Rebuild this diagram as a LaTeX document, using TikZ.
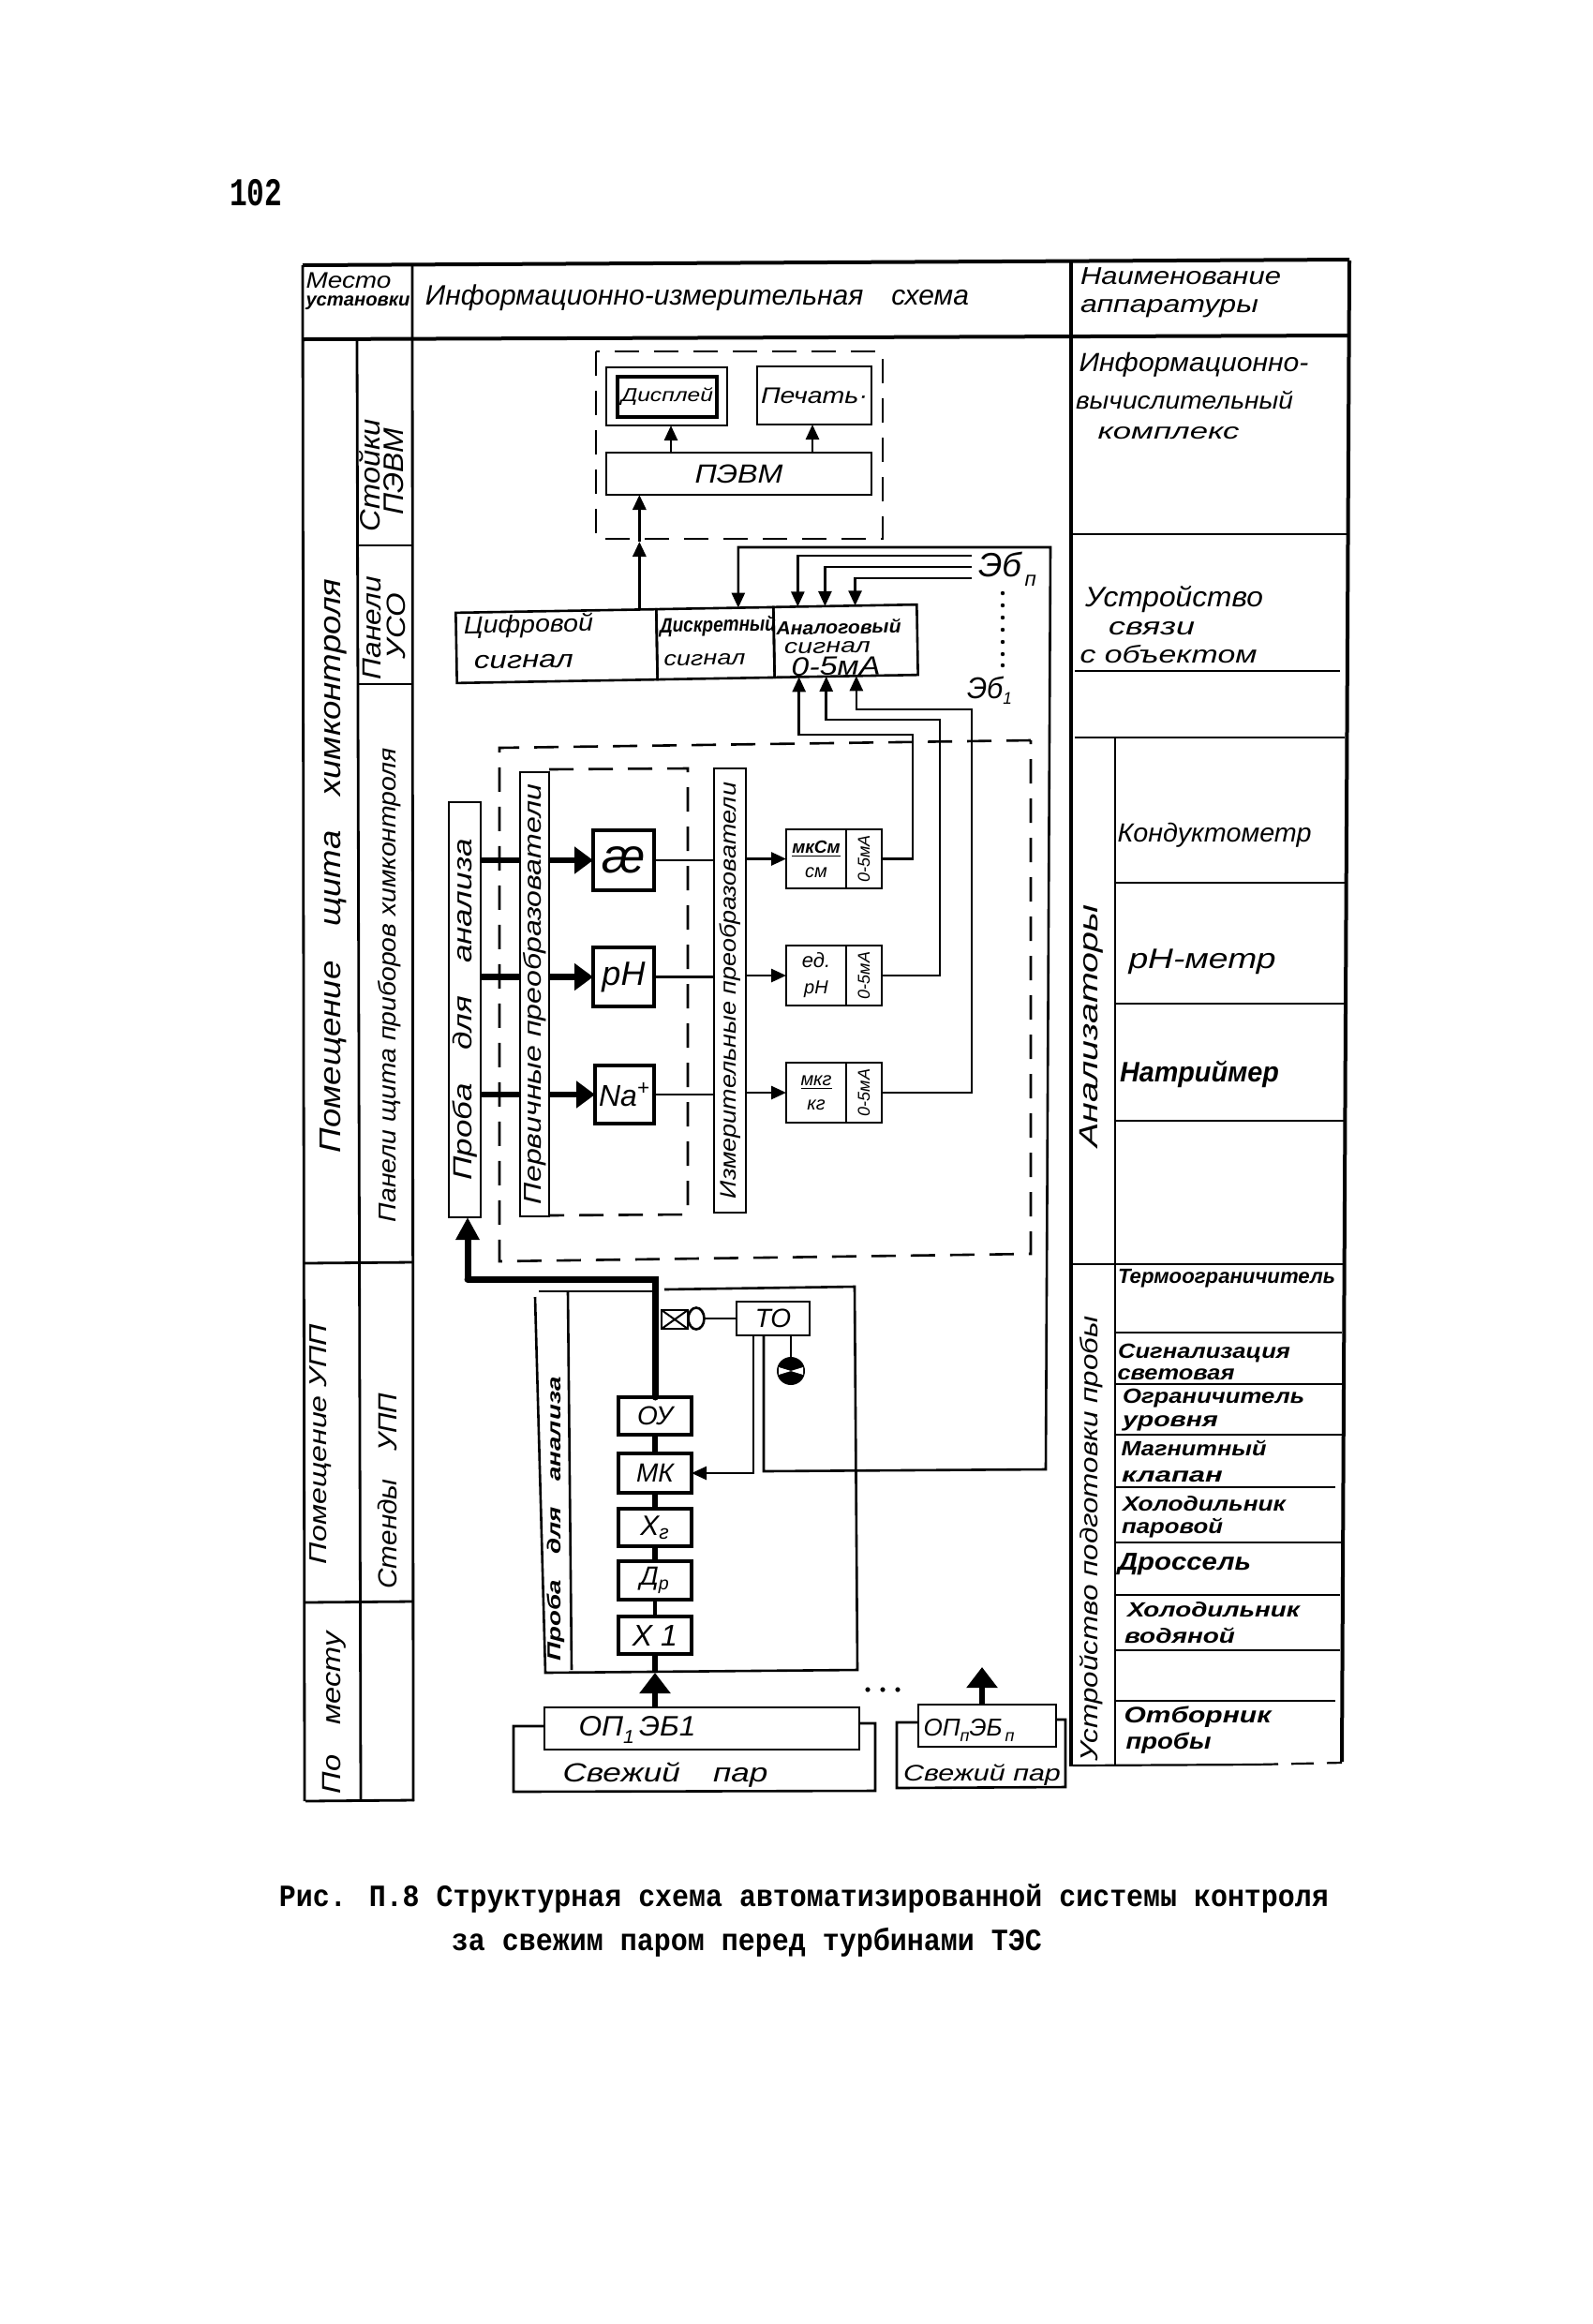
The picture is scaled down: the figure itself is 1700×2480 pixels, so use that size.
\documentclass[tikz,border=0pt]{standalone}
\usepackage{fontspec}
\usepackage{graphicx}
\setmainfont{Liberation Sans}
\newfontfamily\hwf{Liberation Sans}
\newfontfamily\capf{Liberation Mono}
\usetikzlibrary{arrows.meta,calc,shapes.geometric}
\tikzset{
  tbl/.style={line width=1.4pt,black},
  tblb/.style={line width=2pt,black},
  tbn/.style={line width=1.1pt,black},
  box/.style={draw,line width=1.3pt,inner sep=0pt,outer sep=0pt,align=center,font=\hwf\itshape},
  dbox/.style={draw,line width=1.3pt,dash pattern=on 13pt off 8pt},
  wire/.style={line width=1.3pt},
  wirea/.style={line width=1.3pt,-{Triangle[length=8pt,width=7pt]}},
  pipe/.style={line width=3.2pt},
  pipea/.style={line width=3.2pt,-{Triangle[length=10pt,width=14pt]}},
  bigarr/.style={line width=3.2pt,-{Triangle[length=11pt,width=16pt]}},
}
% text centred at a point: [rotation]{name}{x}{y}{font pt}{width px}{text}
\newcommand{\tx}[7][0]{\node[rotate=#1,inner sep=0pt,align=center] (#2) at (#3,#4)
  {\hwf\itshape\fontsize{#5}{#5}\selectfont\resizebox{\dimexpr #6pt/2\relax}{\height}{#7}};}
% box by corners
\newcommand{\bx}[7]{\pgfmathsetmacro\bxw{abs(#4-#2)*0.5}\pgfmathsetmacro\bxh{abs(#5-#3)*0.5}%
  \node[box,#6,minimum width=\bxw pt,minimum height=\bxh pt] (#1) at ({(#2+#4)/2},{(#3+#5)/2}) {#7};}
\begin{document}
\begin{tikzpicture}[x=0.5pt,y=-0.5pt]
\useasboundingbox[fill=white] (0,0) rectangle (1700,2480);

%% ---- table ----
\draw[tblb] (323,283) -- (1440,277);
\draw[tblb] (323,362) -- (1440,358);
\draw[tbl] (323,283) -- (325,1922);
\draw[tbl] (440,282) -- (441,1922);
\draw[tbl] (381,362) -- (385,1922);
\draw[tblb] (1143,279) -- (1143,1885);
\draw[tblb] (1440,278) -- (1432,1880);
\draw[tbl] (1190,787) -- (1190,1885);
\draw[tbl] (326,1922) -- (442,1921);
\draw[tbl] (383,582) -- (440,582);
\draw[tbl] (383,730) -- (440,730);
\draw[tbl] (325,1348) -- (441,1347);
\draw[tbl] (325,1710) -- (441,1709);
% right column rows
\draw[tbn] (1143,570) -- (1438,570);
\draw[tbn] (1147,716) -- (1430,716);
\draw[tbn] (1147,787) -- (1435,787);
\draw[tbn] (1190,942) -- (1436,942);
\draw[tbn] (1190,1071) -- (1436,1071);
\draw[tbn] (1190,1196) -- (1435,1196);
\draw[tbn] (1145,1349) -- (1435,1349);
\draw[tbn] (1190,1422) -- (1432,1422);
\draw[tbn] (1190,1477) -- (1432,1477);
\draw[tbn] (1190,1531) -- (1432,1531);
\draw[tbn] (1190,1587) -- (1425,1587);
\draw[tbn] (1190,1646) -- (1432,1646);
\draw[tbn] (1190,1702) -- (1430,1702);
\draw[tbn] (1190,1761) -- (1430,1761);
\draw[tbn] (1190,1815) -- (1425,1815);
\draw[tbn] (1145,1884) -- (1340,1883);
\draw[tbn,dash pattern=on 12pt off 7pt] (1340,1883) -- (1432,1881);

%% ---- table texts ----
\tx{tMesto}{372}{299}{12}{91}{Место}
\tx{tUst}{382}{323}{10}{111}{\bfseries установки}
\tx{tInf}{744}{318}{15}{580}{Информационно-измерительная\quad схема}
\tx{tNaim}{1260}{295}{13}{214}{Наименование}
\tx{tApp}{1248}{329}{13}{190}{аппаратуры}
\tx{tIvk1}{1274}{389}{14}{245}{Информационно-}
\tx{tIvk2}{1264}{427}{13}{232}{вычислительный}
\tx{tIvk3}{1247}{462}{12}{151}{комплекс}
\tx{tUs1}{1253}{640}{15}{190}{Устройство}
\tx{tUs2}{1229}{671}{13}{92}{связи}
\tx{tUs3}{1247}{698}{13}{189}{с объектом}
\tx{tKond}{1296}{891}{14}{207}{Кондуктометр}
\tx{tPh}{1283}{1026}{15}{157}{pH-метр}
\tx{tNat}{1280}{1146}{15}{170}{\bfseries Натриймер}
\tx{tTerm}{1309}{1364}{11}{232}{\bfseries Термоограничитель}
\tx{tSig1}{1285}{1444}{11}{184}{\bfseries Сигнализация}
\tx{tSig2}{1255}{1467}{11}{125}{\bfseries световая}
\tx{tOgr1}{1295}{1492}{11}{194}{\bfseries Ограничитель}
\tx{tOgr2}{1249}{1519}{11}{102}{\bfseries уровня}
\tx{tMag1}{1274}{1545}{11}{155}{\bfseries Магнитный}
\tx{tMag2}{1251}{1576}{11}{108}{\bfseries клапан}
\tx{tHol1}{1285}{1605}{11}{174}{\bfseries Холодильник}
\tx{tHol2}{1251}{1631}{11}{108}{\bfseries паровой}
\tx{tDro}{1264}{1669}{13}{142}{\bfseries Дроссель}
\tx{tHv1}{1295}{1718}{11}{184}{\bfseries Холодильник}
\tx{tHv2}{1259}{1745}{11}{118}{\bfseries водяной}
\tx{tOtb}{1278}{1832}{12}{157}{\bfseries Отборник}
\tx{tPro}{1247}{1860}{12}{91}{\bfseries пробы}
\tx[90]{tUpp}{1165}{1642}{13}{475}{Устройство подготовки пробы}
\tx[90]{tAn}{1165}{1095}{14}{259}{Анализаторы}
\tx[90]{tPom}{356}{924}{16}{613}{Помещение\quad щита\quad химконтроля}
\tx[90]{tPan}{416}{1051}{13}{506}{Панели щита приборов химконтроля}
\tx[90]{tSto}{395}{507}{15}{120}{Стойки}
\tx[90]{tPev}{420}{503}{15}{93}{ПЭВМ}
\tx[90]{tPan2}{397}{670}{14}{110}{Панели}
\tx[90]{tUso}{423}{668}{14}{70}{УСО}
\tx[90]{tPomu}{342}{1541}{13}{256}{Помещение УПП}
\tx[90]{tSte}{413}{1591}{14}{209}{Стенды\quad УПП}
\tx[90]{tMes}{357}{1828}{14}{173}{По\quad месту}

%% ---- computer complex ----
\draw[dbox] (636,375) rectangle (942,575);
\bx{disp}{647}{392}{776}{454}{}{}
\bx{dispin}{659}{402}{765}{445}{line width=1.6pt}{\fontsize{10}{10}\selectfont\resizebox{49pt}{\height}{Дисплей}}
\bx{prn}{808}{391}{930}{453}{}{\fontsize{12}{12}\selectfont\resizebox{57pt}{\height}{Печать·}}
\bx{pevm}{647}{483}{930}{528}{}{\fontsize{14}{14}\selectfont\resizebox{47pt}{\height}{ПЭВМ}}
\coordinate (xd) at (716,0);
\coordinate (xp) at (867,0);
\draw[wirea] (pevm.north -| xd) -- (disp.south -| xd);
\draw[wirea] (pevm.north -| xp) -- (prn.south -| xp);

%% ---- USO ----
\node[box,rotate=1,minimum width=107pt,minimum height=37.5pt] (digi) at (594,689.5) {};
\node[box,rotate=1,minimum width=62.5pt,minimum height=37.5pt] (disc) at (763.5,686.5) {};
\node[box,rotate=1,minimum width=76.5pt,minimum height=37.5pt] (ana) at (902.5,684) {};
\tx[1]{tD1}{564}{668}{13}{138}{Цифровой}
\tx[1]{tD2}{559}{706}{13}{106}{сигнал}
\tx[1]{tD3}{766}{668}{11}{124}{\bfseries Дискретный}
\tx[1]{tD4}{752}{704}{11}{87}{сигнал}
\tx[1]{tD5}{895}{669}{10}{133}{\bfseries Аналоговый}
\tx[1]{tD6}{883}{691}{11}{92}{сигнал}
\tx[1]{tD7}{892}{711}{14}{95}{0-5мА}

\coordinate (digT) at ($(digi.north west)!0.916!(digi.north east)$);
\coordinate (midA) at (digT |- 0,578);
\draw[wirea,line width=1.6pt] (digT) -- (midA);
\draw[wirea,line width=1.6pt] (midA) -- (pevm.south -| digT);

\coordinate (disT) at ($(disc.north west)!0.70!(disc.north east)$);
\coordinate (anT1) at ($(ana.north west)!0.17!(ana.north east)$);
\coordinate (anT2) at ($(ana.north west)!0.36!(ana.north east)$);
\coordinate (anT3) at ($(ana.north west)!0.57!(ana.north east)$);
\coordinate (anB1) at ($(ana.south west)!0.17!(ana.south east)$);
\coordinate (anB2) at ($(ana.south west)!0.36!(ana.south east)$);
\coordinate (anB3) at ($(ana.south west)!0.57!(ana.south east)$);
\coordinate (ebA) at (1037,593);
\coordinate (ebB) at (1037,605);
\coordinate (ebC) at (1037,617);
\draw[wirea] (ebA) -| (anT1);
\draw[wirea] (ebB) -| (anT2);
\draw[wirea] (ebC) -| (anT3);
\tx{tEbn}{1075}{607}{18}{62}{Эб\raisebox{-5pt}{\fontsize{11}{11}\selectfont\,п}}
\tx{tEb1}{1056}{737}{16}{48}{Эб\raisebox{-3pt}{\fontsize{9}{9}\selectfont 1}}
\foreach \yy in {633,646,659,672,685,698,710} {\fill (1070,\yy) circle[radius=2.2];}

%% ---- analyser section ----
\draw[dbox] (1100,790) -- (533,798) -- (533,1346) -- (1100,1338) -- cycle;
\draw[dbox] (586,821) -- (734,820) -- (734,1296) -- (586,1297);

\node[box,rotate=90,minimum width=221.5pt,minimum height=17pt] (proba) at (496,1077.5)
  {\fontsize{14}{14}\selectfont\resizebox{182pt}{\height}{Проба\quad для\quad анализа}};
\node[box,rotate=90,minimum width=237pt,minimum height=15.5pt] (perv) at (570.5,1061)
  {\fontsize{13}{13}\selectfont\resizebox{224pt}{\height}{Первичные преобразователи}};
\node[box,rotate=90,minimum width=237pt,minimum height=17pt] (izm) at (779,1057)
  {\fontsize{12}{12}\selectfont\resizebox{222pt}{\height}{Измерительные преобразователи}};

\bx{s1}{633}{886}{698}{950}{line width=1.6pt}{\fontsize{26}{26}\selectfont æ}
\bx{s2}{633}{1011}{698}{1074}{line width=1.6pt}{\fontsize{18}{18}\selectfont pH}
\bx{s3}{635}{1137}{698}{1199}{line width=1.6pt}{\fontsize{16}{16}\selectfont Na\textsuperscript{+}}

\bx{i1}{839}{885}{903}{948}{}{\fontsize{9.5}{11}\selectfont \underline{\bfseries мкСм}\\[1pt]см}
\bx{i1r}{903}{885}{941}{948}{}{\rotatebox{90}{\fontsize{9}{9}\selectfont 0-5мА}}
\bx{i2}{839}{1009}{903}{1073}{}{\fontsize{11}{13}\selectfont ед.\\[2pt]pH}
\bx{i2r}{903}{1009}{941}{1073}{}{\rotatebox{90}{\fontsize{9}{9}\selectfont 0-5мА}}
\bx{i3}{839}{1134}{903}{1198}{}{\fontsize{10}{11}\selectfont \underline{мкг}\\[1pt]кг}
\bx{i3r}{903}{1134}{941}{1198}{}{\rotatebox{90}{\fontsize{9}{9}\selectfont 0-5мА}}

\foreach \ss/\ii in {s1/i1,s2/i2,s3/i3} {
  \draw[pipe] (proba.south |- \ss.west) -- (perv.north |- \ss.west);
  \draw[pipea] (perv.south |- \ss.west) -- (\ss.west);
  \draw[wire] (\ss.east) -- (izm.north |- \ss.east);
  \draw[wirea] (izm.south |- \ii.west) -- (\ii.west);
}
\coordinate (w1) at (974,784);
\coordinate (w2) at (1003,768);
\coordinate (w3) at (1037,757);
\draw[wirea] (i1r.east) -| (w1) -| (anB1);
\draw[wirea] (i2r.east) -| (w2) -| (anB2);
\draw[wirea] (i3r.east) -| (w3) -| (anB3);

%% ---- sample preparation stand ----
\draw[wire] (709,1376) -- (912,1373) -- (915,1782) -- (582,1785) -- (571,1384);
\draw[wire] (575,1378) -- (696,1378);
\draw[wire] (606,1378) -- (610,1782);
\tx[90]{tStand}{593}{1621}{10}{303}{\bfseries Проба\quad для\quad анализа}

\bx{oy}{660}{1491}{738}{1531}{line width=1.6pt}{\fontsize{14}{14}\selectfont ОУ}
\bx{mk}{660}{1551}{738}{1593}{line width=1.6pt}{\fontsize{14}{14}\selectfont МК}
\bx{xg}{660}{1610}{738}{1650}{line width=1.6pt}{\fontsize{15}{15}\selectfont Х\textsubscript{г}}
\bx{dr}{660}{1666}{738}{1707}{line width=1.6pt}{\fontsize{14}{14}\selectfont Д\textsubscript{р}}
\bx{x1}{660}{1725}{738}{1765}{line width=1.6pt}{\fontsize{16}{16}\selectfont Х 1}

\draw[line width=2.2pt] (x1.north) -- (dr.south);
\draw[line width=2.6pt] (dr.north) -- (xg.south);
\draw[line width=3pt] (xg.north) -- (mk.south);
\draw[line width=3pt] (mk.north) -- (oy.south);
% thick pipe to sample line
\coordinate (bend1) at (oy.north |- 0,1365);
\coordinate (bend2) at (499,1365);
\draw[line width=3.5pt,line cap=round] (oy.north) -- (bend1) -- (bend2);
\draw[line width=3.5pt,-{Triangle[length=12pt,width=12pt]}] (bend2) -- (bend2 |- proba.west);

% thermal limiter
\bx{coil}{706}{1398}{734}{1418}{}{}
\draw[line width=1pt] (coil.north west) -- (coil.south east) (coil.south west) -- (coil.north east);
\node[draw,ellipse,line width=1.3pt,inner sep=0pt,outer sep=0pt,minimum width=8.5pt,minimum height=11.5pt] (bulb) at (743,1407) {};
\bx{to}{786}{1389}{864}{1425}{}{\fontsize{14}{14}\selectfont ТО}
\draw[wire] (bulb.east) -- (to.west);
\node[circle,fill=black,inner sep=0pt,outer sep=0pt,minimum size=15pt] (lamp) at (844,1463) {};
\fill[white] (lamp.center) -- ($(lamp.west)+(2,-4)$) -- ($(lamp.west)+(2,4)$) -- cycle;
\fill[white] (lamp.center) -- ($(lamp.east)+(-2,-4)$) -- ($(lamp.east)+(-2,4)$) -- cycle;
\draw[wire] (lamp.north |- to.south) -- (lamp.north);

\coordinate (toA) at (804,1425);
\coordinate (toB) at (815,1425);
\coordinate (fb1) at (815,1570);
\coordinate (fb2) at (1116,1568);
\coordinate (fb3) at (1121,584);
\coordinate (fb4) at (disT |- 0,584);
\draw[wirea] (toA) |- (mk.east);
\draw[wirea] (toB) -- (fb1) -- (fb2) -- (fb3) -- (fb4) -- (disT);

%% ---- sampling points ----
\bx{op1}{581}{1822}{917}{1867}{}{}
\tx{tOp1}{680}{1846}{15}{125}{ОП\raisebox{-4pt}{\fontsize{10}{10}\selectfont 1}\,ЭБ1}
\bx{opn}{980}{1819}{1127}{1864}{}{}
\tx{tOpn}{1034}{1846}{13}{97}{ОП\raisebox{-3pt}{\fontsize{9}{9}\selectfont п}ЭБ\raisebox{-3pt}{\fontsize{9}{9}\selectfont\,п}}
\draw[wire] (op1.west |- 0,1842) -- (548,1842) -- (548,1912) -- (934,1911) -- (934,1839) -- (op1.east |- 0,1839);
\draw[wire] (opn.west |- 0,1838) -- (957,1838) -- (957,1908) -- (1137,1907) -- (1137,1835) -- (opn.east |- 0,1835);
\tx{tFr1}{710}{1894}{14}{219}{Свежий\quad пар}
\tx{tFr2}{1048}{1894}{12}{168}{Свежий пар}
\coordinate (x1in) at (x1.south |- 0,1785);
\draw[line width=2.8pt] (x1.south) -- (x1in);
\draw[line width=2.8pt,-{Triangle[length=11pt,width=16pt]}] (op1.north -| x1.south) -- (x1in);
\coordinate (opout) at (1048,1779);
\draw[bigarr] (opn.north -| opout) -- (opout);
\foreach \xx in {926,942,958} {\fill (\xx,1803) circle[radius=2.6];}

%% ---- page number and caption ----
\node[inner sep=0pt] (pageno) at (273,206) {\capf\bfseries\fontsize{21}{21}\selectfont\resizebox{28pt}{\height}{102}};
\node[inner sep=0pt] (capt1) at (858,2026) {\capf\bfseries\fontsize{16.5}{16.5}\selectfont\resizebox{560pt}{\height}{Рис. П.8 Структурная схема автоматизированной системы контроля}};
\node[inner sep=0pt] (capt2) at (797,2073) {\capf\bfseries\fontsize{16.5}{16.5}\selectfont\resizebox{315pt}{\height}{за свежим паром перед турбинами ТЭС}};
\end{tikzpicture}
\end{document}
